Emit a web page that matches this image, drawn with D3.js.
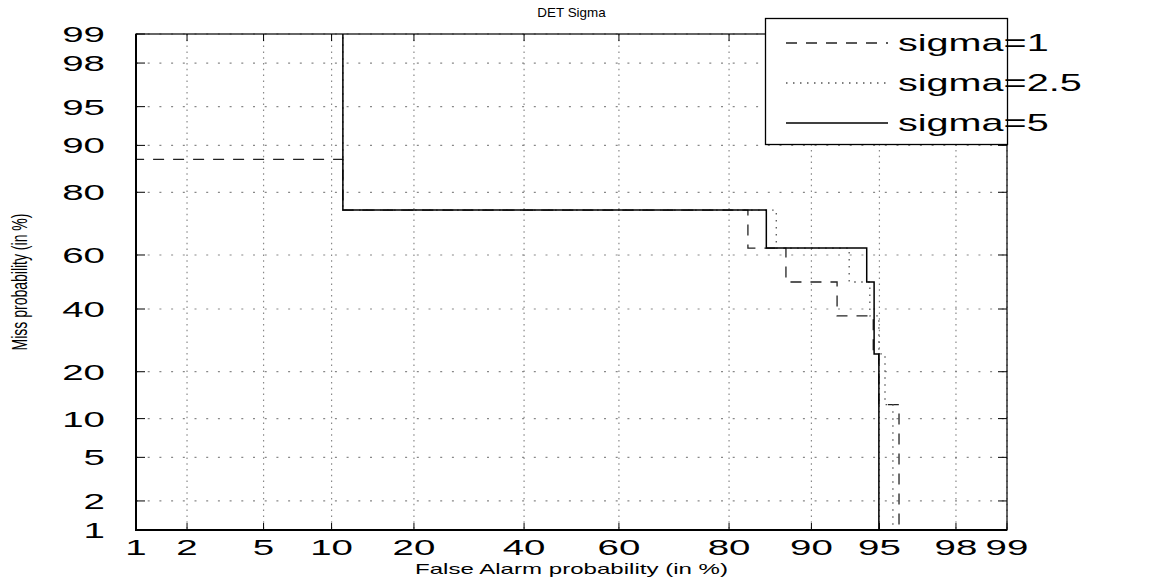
<!DOCTYPE html>
<html>
<head>
<meta charset="utf-8">
<script src="https://cdn.jsdelivr.net/npm/d3@7"></script>
<style>
body { margin: 0; background: #fff; }
text { font-family: "Liberation Sans", Arial, sans-serif; fill: #000; }
</style>
</head>
<body>
<script>
// tick values (in %)
var xTicks = [1, 2, 5, 10, 20, 40, 60, 80, 90, 95, 98, 99];
var yTicks = [1, 2, 5, 10, 20, 40, 60, 80, 90, 95, 98, 99];

// DET staircases: false alarm / miss probability (in %)
var sigma1Pfa    = [0, 11.1, 11.1, 82.7, 82.7, 87.4, 87.4, 92.2, 92.2, 94.65, 94.65, 94.97, 94.97, 95.99, 95.99];
var sigma1Pmiss  = [87.5, 87.5, 75, 75, 62.5, 62.5, 50, 50, 37.5, 37.5, 25, 25, 12.5, 12.5, 0];
var sigma25Pfa   = [11.1, 11.1, 86.3, 86.3, 93.1, 93.1, 94.45, 94.45, 94.97, 94.97, 95.3, 95.3, 95.7, 95.7];
var sigma25Pmiss = [100, 75, 75, 62.5, 62.5, 50, 50, 37.5, 37.5, 25, 25, 12.5, 12.5, 0];
var sigma5Pfa    = [11.1, 11.1, 85.1, 85.1, 94.26, 94.26, 94.7, 94.7, 94.97, 94.97];
var sigma5Pmiss  = [100, 75, 75, 62.5, 62.5, 50, 50, 25, 25, 0];

var seriesNames = ["sigma=1", "sigma=2.5", "sigma=5"];

// set the dimensions and margins of the graph
var margin = {top: 34, right: 161, bottom: 47, left: 136},
    width = 1168 - margin.left - margin.right,
    height = 577 - margin.top - margin.bottom;

// text is stretched sideways like the exported figure
var hs = 1.65;

// inverse normal cdf (Acklam)
function probit(p) {
  var a = [-3.969683028665376e+01, 2.209460984245205e+02, -2.759285104469687e+02, 1.383577518672690e+02, -3.066479806614716e+01, 2.506628277459239e+00];
  var b = [-5.447609879822406e+01, 1.615858368580409e+02, -1.556989798598866e+02, 6.680131188771972e+01, -1.328068155288572e+01];
  var c = [-7.784894002430293e-03, -3.223964580411365e-01, -2.400758277161838e+00, -2.549732539343734e+00, 4.374664141464968e+00, 2.938163982698783e+00];
  var d = [7.784695709041462e-03, 3.224671290700398e-01, 2.445134137142996e+00, 3.754408661907416e+00];
  var plow = 0.02425, q, r;
  p = Math.min(Math.max(p, 1e-5), 1 - 1e-5);
  if (p < plow) {
    q = Math.sqrt(-2 * Math.log(p));
    return (((((c[0]*q+c[1])*q+c[2])*q+c[3])*q+c[4])*q+c[5]) / ((((d[0]*q+d[1])*q+d[2])*q+d[3])*q+1);
  }
  if (p > 1 - plow) {
    q = Math.sqrt(-2 * Math.log(1 - p));
    return -(((((c[0]*q+c[1])*q+c[2])*q+c[3])*q+c[4])*q+c[5]) / ((((d[0]*q+d[1])*q+d[2])*q+d[3])*q+1);
  }
  q = p - 0.5; r = q * q;
  return (((((a[0]*r+a[1])*r+a[2])*r+a[3])*r+a[4])*r+a[5])*q / (((((b[0]*r+b[1])*r+b[2])*r+b[3])*r+b[4])*r+1);
}

// normal deviate scales
var xz = d3.scaleLinear().domain([probit(0.01), probit(0.99)]).range([0, width]);
var yz = d3.scaleLinear().domain([probit(0.01), probit(0.99)]).range([height, 0]);
var x = function(v) { return xz(probit(v / 100)); };
var y = function(v) { return yz(probit(v / 100)); };

var svg = d3.select("body").append("svg")
    .attr("width", 1168)
    .attr("height", 577);

function stext(sel, tx, ty, str, size, anchor, sx) {
  return sel.append("text")
      .attr("transform", "translate(" + tx + "," + ty + ") scale(" + (sx || hs) + ",1)")
      .attr("font-size", size)
      .attr("text-anchor", anchor)
      .text(str);
}

var g = svg.append("g")
    .attr("transform", "translate(" + margin.left + "," + margin.top + ")");

g.append("clipPath").attr("id", "clip")
  .append("rect").attr("width", width).attr("height", height);

// grid
g.selectAll(".hgrid").data(yTicks).enter().append("line")
    .attr("x1", 0).attr("x2", width)
    .attr("y1", y).attr("y2", y)
    .attr("stroke", "#888").attr("stroke-width", 1.2)
    .attr("stroke-dasharray", "2,9.7");
g.selectAll(".vgrid").data(xTicks).enter().append("line")
    .attr("y1", 0).attr("y2", height)
    .attr("x1", x).attr("x2", x)
    .attr("stroke", "#888").attr("stroke-width", 1.2)
    .attr("stroke-dasharray", "1.5,4.3");

// ticks, inside on every side
g.selectAll(".tl").data(yTicks).enter().append("path")
    .attr("d", function(d) { return "M0," + y(d) + "h9M" + width + "," + y(d) + "h-9"; })
    .attr("stroke", "#000");
g.selectAll(".tb").data(xTicks).enter().append("path")
    .attr("d", function(d) { return "M" + x(d) + "," + height + "v-7M" + x(d) + ",0v7"; })
    .attr("stroke", "#000");

// the curves
var line = d3.line()
    .x(function(d) { return x(d[0]); })
    .y(function(d) { return y(d[1]); });

var series = [
  {pfa: sigma1Pfa, pmiss: sigma1Pmiss, dash: "11,9", color: "#222", w: 1.3},
  {pfa: sigma25Pfa, pmiss: sigma25Pmiss, dash: "1.5,5.5", color: "#555", w: 1.3},
  {pfa: sigma5Pfa, pmiss: sigma5Pmiss, dash: null, color: "#000", w: 1.5}
];

var curves = g.append("g").attr("clip-path", "url(#clip)");
series.forEach(function(s) {
  curves.append("path")
      .datum(d3.zip(s.pfa, s.pmiss))
      .attr("fill", "none")
      .attr("stroke", s.color)
      .attr("stroke-width", s.w)
      .attr("stroke-dasharray", s.dash)
      .attr("d", line);
});

// axes box
g.append("rect")
    .attr("width", width).attr("height", height)
    .attr("fill", "none").attr("stroke", "#000").attr("stroke-width", 1.2);
g.append("path")
    .attr("d", "M0,0V" + height + "H" + width)
    .attr("fill", "none").attr("stroke", "#000").attr("stroke-width", 2);

// tick labels
yTicks.forEach(function(t) {
  stext(g, -31, y(t) + 8, t, 22, "end", 1.75);
});
xTicks.forEach(function(t) {
  stext(g, x(t), height + 25, t, 22, "middle", 1.75);
});

// titles
stext(svg, margin.left + width / 2, 17, "DET Sigma", 12, "middle", 1.12);
stext(svg, margin.left + width / 2, 574, "False Alarm probability (in %)", 14, "middle", 1.72);
svg.append("text")
    .attr("transform", "translate(27,282) scale(1.57,1) rotate(-90)")
    .attr("font-size", 14)
    .attr("text-anchor", "middle")
    .text("Miss probability (in %)");

// legend
var lg = svg.append("g");
lg.append("rect")
    .attr("x", 765.5).attr("y", 18.5)
    .attr("width", 242).attr("height", 126)
    .attr("fill", "#fff").attr("stroke", "#000").attr("stroke-width", 1.3);
seriesNames.forEach(function(name, i) {
  var s = series[i], ly = 43 + i * 40;
  lg.append("line")
      .attr("x1", 786).attr("x2", 888)
      .attr("y1", ly).attr("y2", ly)
      .attr("stroke", s.color).attr("stroke-width", s.w)
      .attr("stroke-dasharray", s.dash);
  stext(lg, 898, ly + 8, name, 24, "start");
});
</script>
</body>
</html>
